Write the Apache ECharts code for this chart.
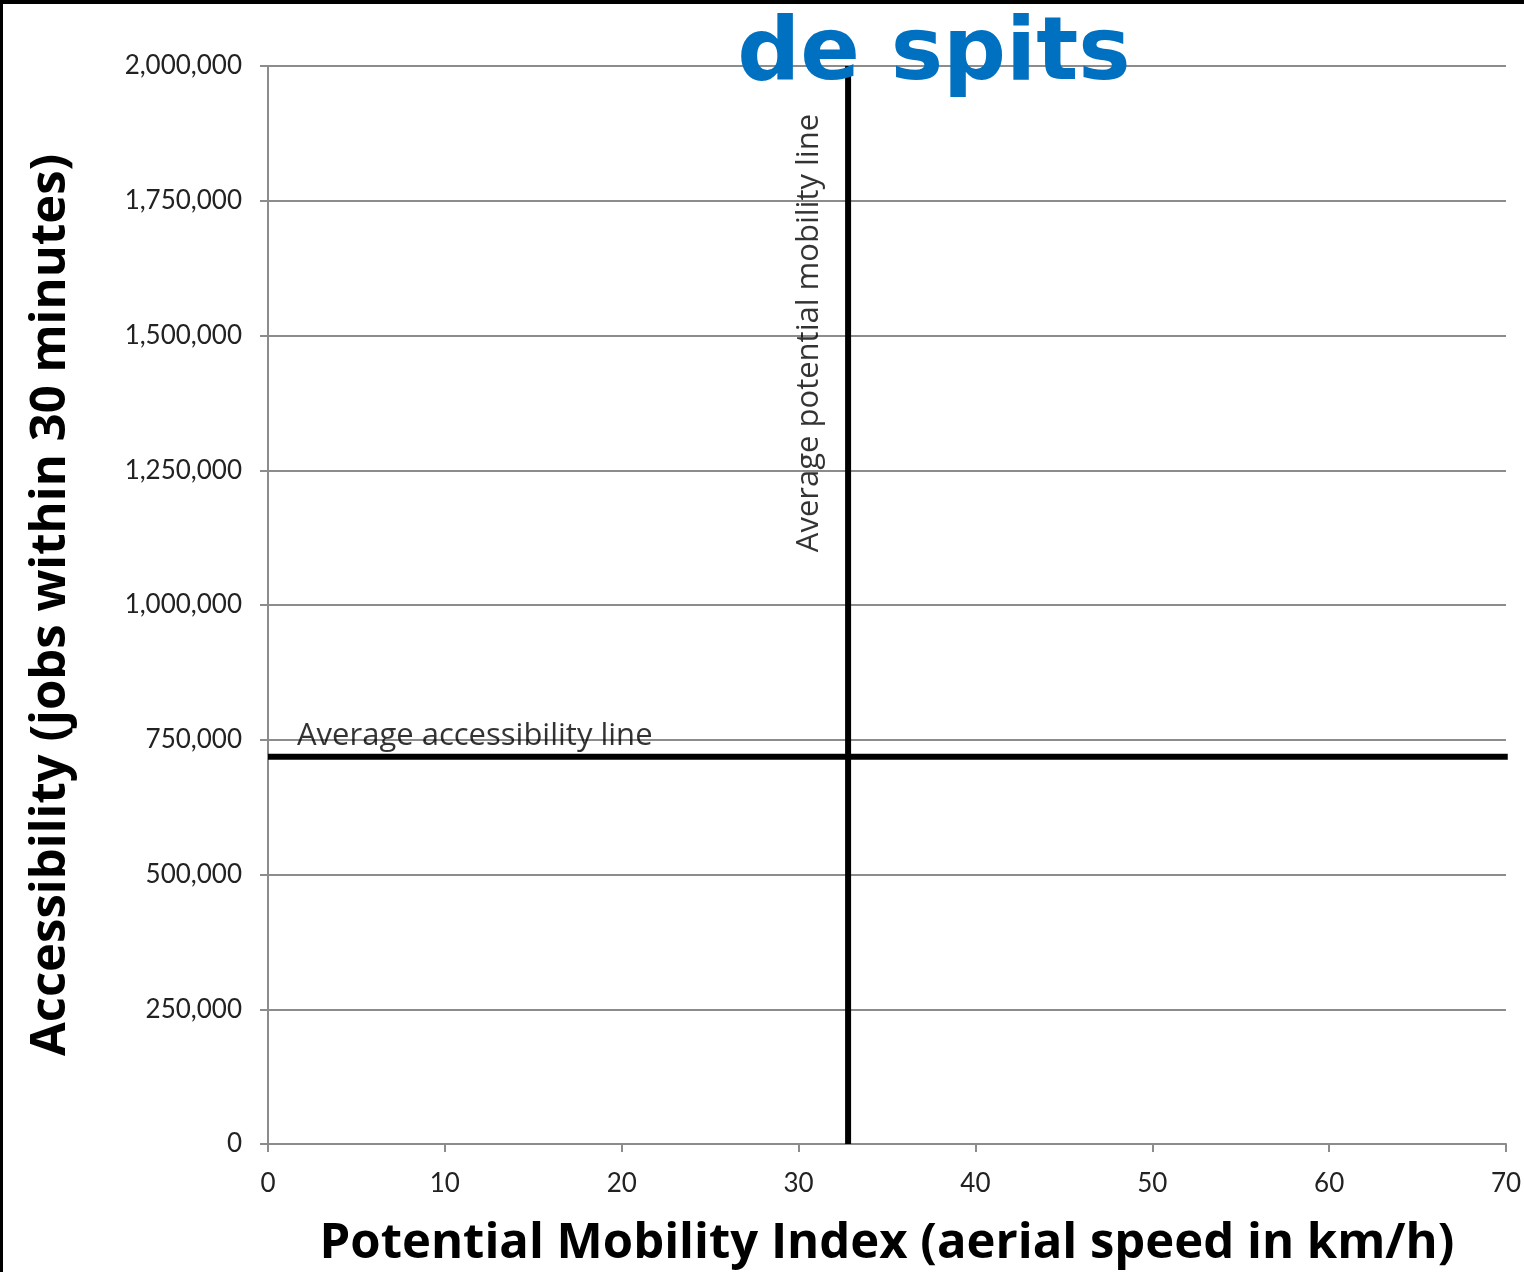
<!DOCTYPE html>
<html>
<head>
<meta charset="utf-8">
<script src="https://cdn.jsdelivr.net/npm/echarts@6/dist/echarts.min.js"></script>
<style>
  html, body { margin: 0; padding: 0; background: #fff; }
  #main { width: 1524px; height: 1272px; }
  .frame { position: absolute; left: 0; top: 0; width: 1524px; height: 1272px;
           border-top: 4px solid #000; border-left: 3px solid #000; box-sizing: border-box; pointer-events: none; }
</style>
</head>
<body>
<div id="main"></div>
<div class="frame"></div>
<script>
// axis ranges and ticks
const xTicks = [0, 10, 20, 30, 40, 50, 60, 70];
const yTicks = [0, 250000, 500000, 750000, 1000000, 1250000, 1500000, 1750000, 2000000];

// average reference lines
const avgMobility = 32.8;        // km/h
const avgAccessibility = 718500; // jobs

const xMin = xTicks[0], xMax = xTicks[xTicks.length - 1];
const yMin = yTicks[0], yMax = yTicks[yTicks.length - 1];

const chart = echarts.init(document.getElementById('main'));

const axisGray = '#8c8c8c';
const labelFont = { fontFamily: 'Lato', fontSize: 26, color: '#222' };
const nameFont = { fontFamily: 'Open Sans', fontWeight: 'bold', fontSize: 49, color: '#000' };

chart.setOption({
    animation: false,
    title: {
        text: 'de spits',
        left: 929,
        top: 7,
        textAlign: 'center',
        textStyle: { fontFamily: 'DejaVu Sans', fontWeight: 'bold', fontSize: 88, color: '#0070C0' },
        z: 10
    },
    grid: { left: 268, top: 66, width: 1238, height: 1078, outerBoundsMode: 'none', containLabel: false },
    xAxis: {
        type: 'value', min: xMin, max: xMax, interval: 10,
        name: 'Potential Mobility Index (aerial speed in km/h)',
        nameLocation: 'middle', nameGap: 76,
        nameTextStyle: nameFont,
        axisLine: { lineStyle: { color: axisGray, width: 2 } },
        axisTick: { show: true, length: 8, lineStyle: { color: axisGray, width: 2 } },
        axisLabel: Object.assign({ margin: 27 }, labelFont),
        splitLine: { show: false }
    },
    yAxis: {
        type: 'value', min: yMin, max: yMax, interval: 250000,
        name: 'Accessibility (jobs within 30 minutes)',
        nameLocation: 'middle', nameGap: 192,
        nameTextStyle: nameFont,
        axisLine: { show: true, lineStyle: { color: axisGray, width: 2 } },
        axisTick: { show: true, length: 8, lineStyle: { color: axisGray, width: 2 } },
        axisLabel: Object.assign({
            margin: 26,
            formatter: v => v.toLocaleString('en-US')
        }, labelFont),
        splitLine: { show: true, lineStyle: { color: axisGray, width: 2 } }
    },
    series: [
        {
            // vertical: average potential mobility
            type: 'line', symbol: 'none', clip: false,
            lineStyle: { color: '#000', width: 6 },
            data: [[avgMobility, yMin], [avgMobility, yMax]],
            z: 5
        },
        {
            // horizontal: average accessibility
            type: 'line', symbol: 'none', clip: false,
            lineStyle: { color: '#000', width: 6 },
            data: [[xMin, avgAccessibility], [xMax + 0.1, avgAccessibility]],
            z: 5
        },
        {
            // text labels for the two lines
            type: 'scatter', symbolSize: 0, silent: true,
            data: [
                { value: [1.64, 757000], label: {
                    show: true, formatter: 'Average accessibility line', position: [0, 0],
                    align: 'left', verticalAlign: 'middle', fontFamily: 'Open Sans', fontSize: 31, color: '#000'
                } },
                { value: [30.6, 1504600], label: {
                    show: true, formatter: 'Average potential mobility line', position: [0, 0],
                    rotate: 90, align: 'center', verticalAlign: 'middle', fontFamily: 'Open Sans', fontSize: 31, color: '#000'
                } }
            ],
            z: 6
        }
    ]
});
</script>
</body>
</html>
